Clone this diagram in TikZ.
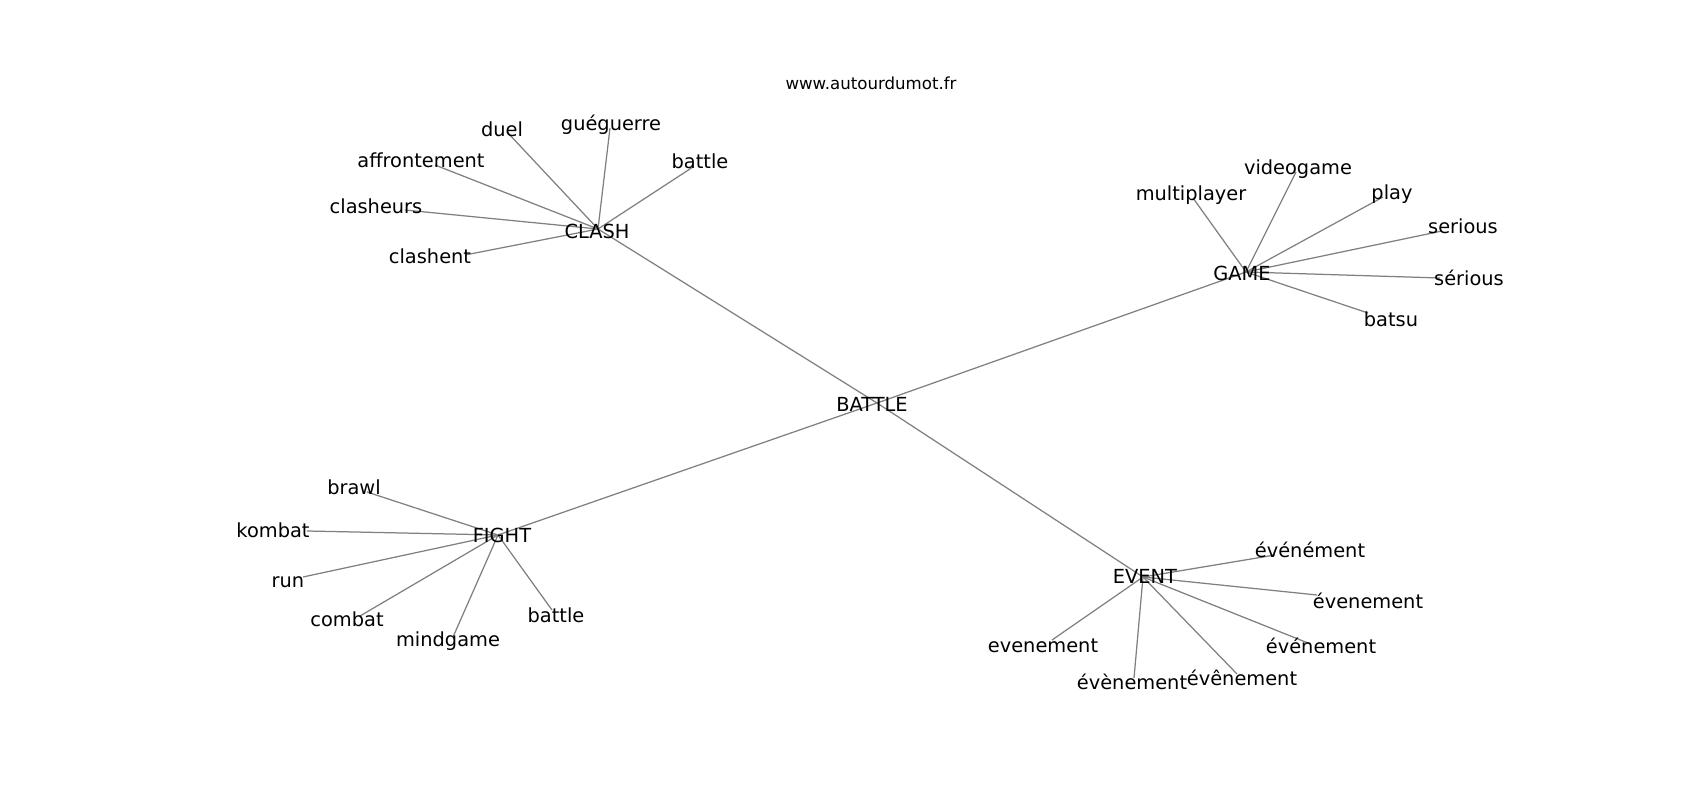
\documentclass[tikz,border=0pt]{standalone}
\usepackage{fontspec}
\setmainfont{DejaVu Sans}
\definecolor{edgegray}{RGB}{128,128,128}

\begin{document}
\begin{tikzpicture}[x=0.01in, y=-0.01in, inner sep=0pt, word/.style={anchor=base, yshift=-1pt, font=\fontsize{14}{16}\selectfont}, link/.style={-, line width=0.9pt, draw=edgegray}]
\useasboundingbox (0,0) rectangle (1700,800);
\coordinate (battle) at (877,403);
\coordinate (clash) at (598,229);
\coordinate (game) at (1246,272);
\coordinate (fight) at (498,535);
\coordinate (event) at (1143,577);
\coordinate (c1) at (507,132);
\coordinate (c2) at (610,128);
\coordinate (c3) at (693,167);
\coordinate (c4) at (435,165);
\coordinate (c5) at (405,210);
\coordinate (c6) at (465,255);
\coordinate (g1) at (1193,198);
\coordinate (g2) at (1296,172);
\coordinate (g3) at (1383,197);
\coordinate (g4) at (1442,231);
\coordinate (g5) at (1440,278);
\coordinate (g6) at (1368,313);
\coordinate (e1) at (1275,555);
\coordinate (e2) at (1317,595);
\coordinate (e3) at (1308,643);
\coordinate (e4) at (1237,674);
\coordinate (e5) at (1134,678);
\coordinate (e6) at (1052,640);
\coordinate (f1) at (367,492);
\coordinate (f2) at (307,531);
\coordinate (f3) at (303,577);
\coordinate (f4) at (360,616);
\coordinate (f5) at (453,637);
\coordinate (f6) at (552,610);
\draw[link] (battle) -- (clash);
\draw[link] (battle) -- (game);
\draw[link] (battle) -- (fight);
\draw[link] (battle) -- (event);
\foreach \k in {1,...,6} {
\draw[link] (clash) -- (c\k);
\draw[link] (game) -- (g\k);
\draw[link] (event) -- (e\k);
\draw[link] (fight) -- (f\k);
}
\node (site) at (871,88) [anchor=base, yshift=-1pt, font=\fontsize{12}{14}\selectfont] {www.autourdumot.fr};
\node (battle-t) at (872,410) [word] {BATTLE};
\node (clash-t) at (597,237) [word] {CLASH};
\node (game-t) at (1242,279) [word] {GAME};
\node (fight-t) at (502,541) [word] {FIGHT};
\node (event-t) at (1145,582) [word] {EVENT};
\node (c1-t) at (502,135) [word] {duel};
\node (c2-t) at (611,129) [word] {guéguerre};
\node (c3-t) at (700,167) [word] {battle};
\node (c4-t) at (421,166) [word] {affrontement};
\node (c5-t) at (376,212) [word] {clasheurs};
\node (c6-t) at (430,262) [word] {clashent};
\node (g1-t) at (1191,199) [word] {multiplayer};
\node (g2-t) at (1298,173) [word] {videogame};
\node (g3-t) at (1392,198) [word] {play};
\node (g4-t) at (1463,232) [word] {serious};
\node (g5-t) at (1469,284) [word] {sérious};
\node (g6-t) at (1391,325) [word] {batsu};
\node (e1-t) at (1310,556) [word] {événément};
\node (e2-t) at (1368,607) [word] {évenement};
\node (e3-t) at (1321,652) [word] {événement};
\node (e4-t) at (1242,684) [word] {évênement};
\node (e5-t) at (1132,688) [word] {évènement};
\node (e6-t) at (1043,651) [word] {evenement};
\node (f1-t) at (354,493) [word] {brawl};
\node (f2-t) at (273,536) [word] {kombat};
\node (f3-t) at (288,586) [word] {run};
\node (f4-t) at (347,625) [word] {combat};
\node (f5-t) at (448,645) [word] {mindgame};
\node (f6-t) at (556,621) [word] {battle};
\end{tikzpicture}
\end{document}
